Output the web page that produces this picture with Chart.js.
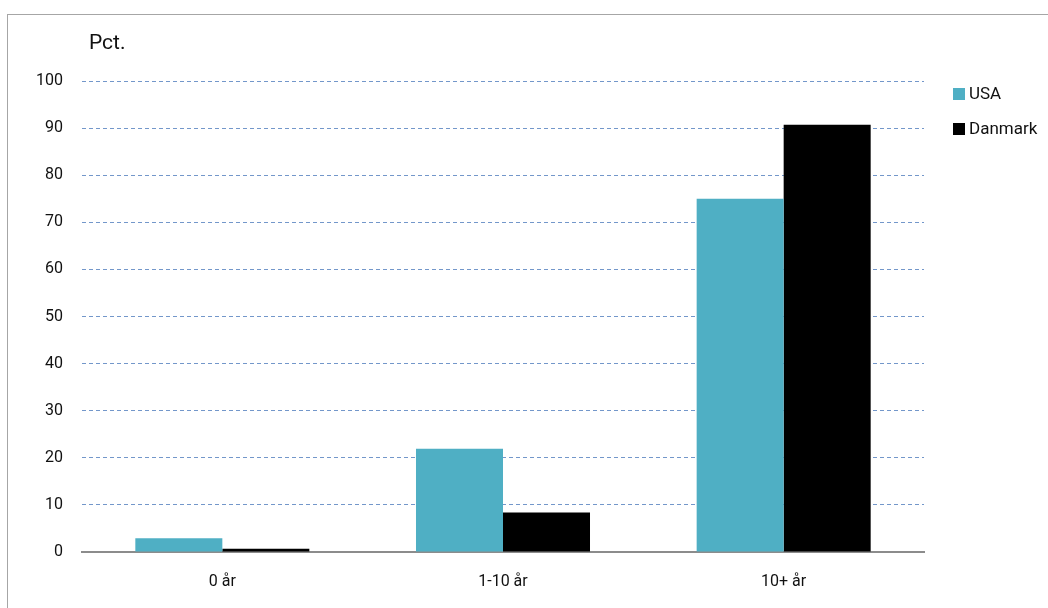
<!DOCTYPE html>
<html>
<head>
<meta charset="utf-8">
<script src="https://cdn.jsdelivr.net/npm/chart.js@4"></script>
<style>
    body { margin: 0; background: #fff; overflow: hidden; }
    #wrap { position: relative; width: 1048px; height: 608px; overflow: hidden; }
    #frame { position: absolute; left: 7px; top: 14px; width: 1100px; height: 700px; border: 1px solid #a6a6a6; }
    #myChart { position: absolute; left: 0; top: 0; }
    #unit { position: absolute; left: 89px; top: 30px; font: 21px Roboto, sans-serif; color: #111; }
    #legend { position: absolute; left: 953px; top: 83px; font: 17px Roboto, sans-serif; color: #111; }
    #legend div { height: 35px; display: flex; align-items: flex-start; }
    #legend span { display: inline-block; width: 12px; height: 12px; margin: 5px 4px 0 0; }
</style>
</head>
<body>
<div id="wrap">
    <div id="frame"></div>
    <canvas id="myChart" width="1048" height="608"></canvas>
    <div id="unit">Pct.</div>
    <div id="legend"></div>
</div>
<script>
// Kategorier og serier
const categories = ['0 år', '1-10 år', '10+ år'];
const usaValues = [2.9, 21.9, 75];
const danmarkValues = [0.7, 8.4, 90.7];
const yTicks = [0, 10, 20, 30, 40, 50, 60, 70, 80, 90, 100];

const seriesNames = ['USA', 'Danmark'];
const seriesColors = ['#4fafc4', '#000000'];

const ctx = document.getElementById('myChart').getContext('2d');

const myChart = new Chart(ctx, {
    type: 'bar',
    data: {
        labels: categories,
        datasets: [
            {
                label: seriesNames[0],
                data: usaValues,
                backgroundColor: seriesColors[0],
                categoryPercentage: 0.62,
                barPercentage: 1
            },
            {
                label: seriesNames[1],
                data: danmarkValues,
                backgroundColor: seriesColors[1],
                categoryPercentage: 0.62,
                barPercentage: 1
            }
        ]
    },
    options: {
        responsive: false,
        animation: false,
        layout: {
            padding: { top: 81, right: 124, bottom: 0, left: 0 }
        },
        scales: {
            x: {
                grid: { display: false, drawTicks: false },
                border: { color: '#8c8c8c', width: 2 },
                ticks: {
                    padding: 20,
                    color: '#111',
                    font: { family: 'Roboto', size: 16 }
                },
                afterFit: (scale) => { scale.height = 56; }
            },
            y: {
                min: 0,
                max: 100,
                afterBuildTicks: (scale) => {
                    scale.ticks = yTicks.map(v => ({ value: v }));
                },
                grid: {
                    drawTicks: false,
                    color: (c) => c.tick && c.tick.value === 0 ? 'rgba(0,0,0,0)' : '#7397ca',
                    lineWidth: 1
                },
                border: { display: false, dash: [4, 3] },
                ticks: {
                    padding: 19,
                    color: '#111',
                    font: { family: 'Roboto', size: 16 }
                },
                afterFit: (scale) => { scale.width = 82; }
            }
        },
        plugins: {
            legend: { display: false },
            tooltip: { enabled: false }
        }
    }
});

// Forklaring til højre for diagrammet
const legendBox = document.getElementById('legend');
myChart.data.datasets.forEach(ds => {
    const row = document.createElement('div');
    const swatch = document.createElement('span');
    swatch.style.background = ds.backgroundColor;
    row.appendChild(swatch);
    row.appendChild(document.createTextNode(ds.label));
    legendBox.appendChild(row);
});
</script>
</body>
</html>
